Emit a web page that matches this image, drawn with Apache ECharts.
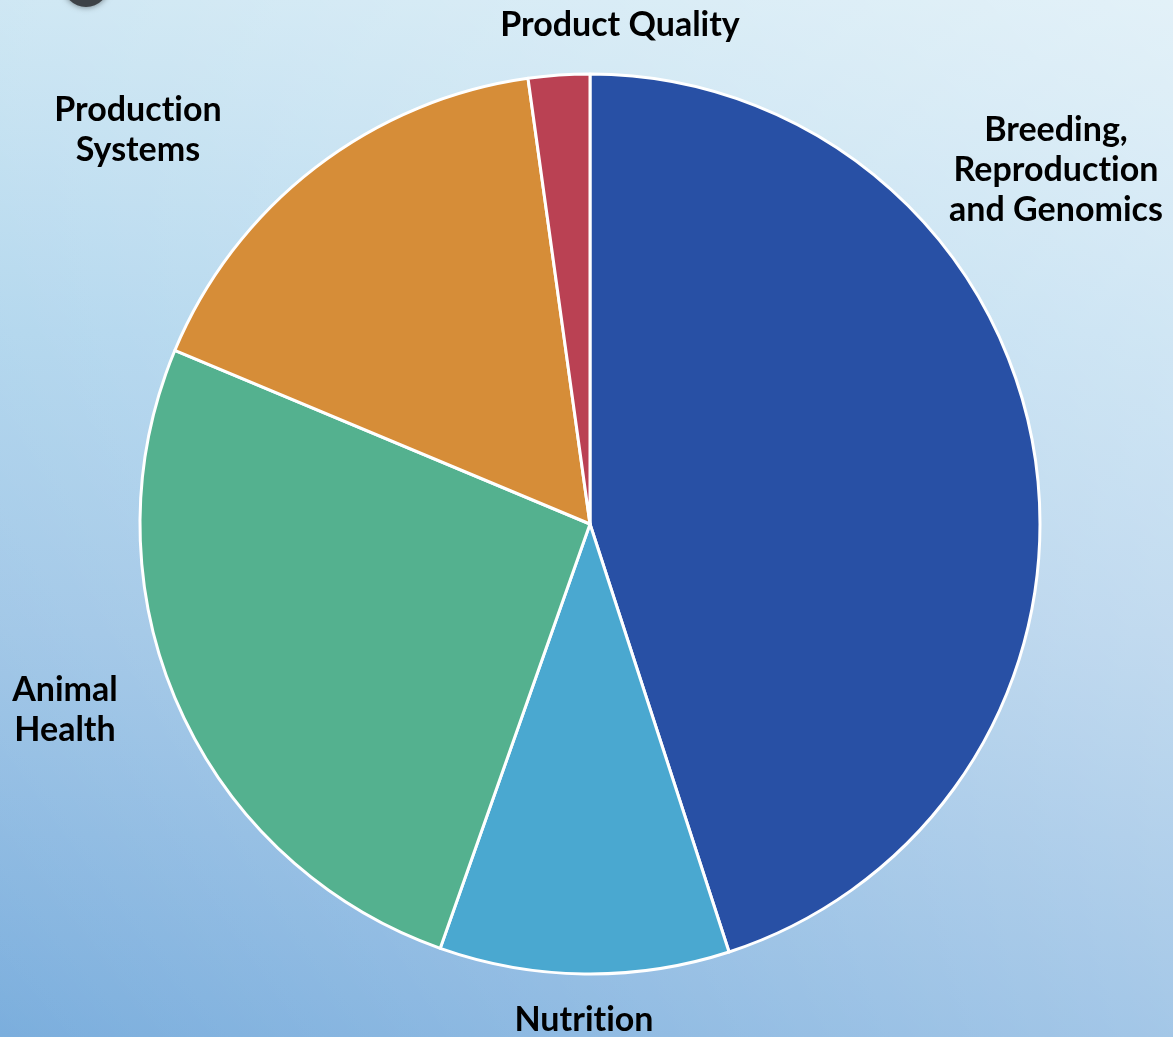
<!DOCTYPE html>
<html>
<head>
<meta charset="utf-8">
<script src="https://cdn.jsdelivr.net/npm/echarts@6/dist/echarts.min.js"></script>
<style>
html,body{margin:0;padding:0;}
#chart{width:1173px;height:1037px;}
</style>
</head>
<body>
<div id="chart"></div>
<script>
// Data
const categories = ['Breeding,\nReproduction\nand Genomics', 'Nutrition', 'Animal\nHealth', 'Production\nSystems', 'Product Quality'];
const values = [45.0, 10.4, 25.9, 16.5, 2.2];
const colors = ['#2850A5', '#4AA8D0', '#54B18F', '#D68D38', '#BA4153'];

// Label placement (layout only)
const labelPos = [[1056, 170], [584, 1020], [65, 710], [138, 130], [620, 25]];

const chart = echarts.init(document.getElementById('chart'), null, {renderer: 'canvas'});
chart.setOption({
  animation: false,
  backgroundColor: '#A6D0EB',
  graphic: [{
    type: 'rect',
    z: -10,
    silent: true,
    shape: {x: 0, y: 0, width: 1173, height: 1037},
    style: {fill: new echarts.graphic.LinearGradient(0, 0, 0, 1, [
      {offset: 0, color: '#C0E0F0'},
      {offset: 0.32, color: '#A6D0EB'},
      {offset: 0.61, color: '#99C2E5'},
      {offset: 1, color: '#7BAEDD'}
    ])}
  }, {
    type: 'rect',
    z: -9,
    silent: true,
    shape: {x: 0, y: 0, width: 1173, height: 1037},
    style: {fill: new echarts.graphic.LinearGradient(0, 1, 1, 0, [
      {offset: 0, color: 'rgba(255,255,255,0)'},
      {offset: 1, color: 'rgba(255,255,255,0.55)'}
    ])}
  }, {
    type: 'circle',
    shape: {cx: 86, cy: -16, r: 23},
    style: {fill: '#3d4247', shadowBlur: 6, shadowColor: 'rgba(0,0,0,0.5)'},
    silent: true
  }],
  series: [{
    type: 'pie',
    center: [590, 524],
    radius: 450,
    startAngle: 90,
    clockwise: true,
    silent: true,
    emphasis: {disabled: true},
    itemStyle: {borderColor: '#ffffff', borderWidth: 3},
    label: {
      show: true,
      position: 'outside',
      color: '#000000',
      fontFamily: 'Lato',
      fontWeight: 'bold',
      fontSize: 34,
      lineHeight: 40,
      align: 'center',
      overflow: 'none',
      formatter: function (p) { return p.name.replace(/ti/g, 't\u200Ci'); }
    },
    labelLine: {show: false},
    labelLayout: function (p) {
      const pos = labelPos[p.dataIndex];
      return {x: pos[0], y: pos[1], align: 'center', verticalAlign: 'middle'};
    },
    data: categories.map((c, i) => ({name: c, value: values[i], itemStyle: {color: colors[i]}}))
  }]
});
</script>
</body>
</html>
